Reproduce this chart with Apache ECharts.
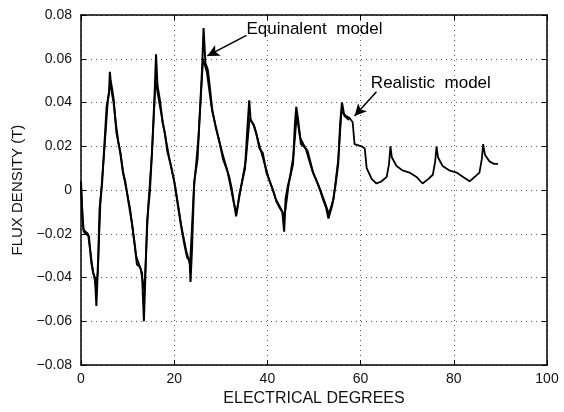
<!DOCTYPE html>
<html>
<head>
<meta charset="utf-8">
<script src="https://cdn.jsdelivr.net/npm/echarts@6/dist/echarts.min.js"></script>
<style>html,body{margin:0;background:#fff}#c{width:564px;height:412px}</style>
</head>
<body>
<div id="c"></div>
<script>
  // equivalent model (jagged trace, stops near 57 deg)
  const equivX = [0, 0.3, 0.6, 1.0, 1.7, 2.2, 2.6, 3.0, 3.3, 3.5, 3.7, 4.0, 4.5, 5.0, 5.5, 6.0, 6.2, 6.5, 7.0, 7.5,
    8.0, 8.5, 9.0, 9.5, 10.3, 11.0, 11.6, 12.0, 12.6, 13.1, 13.5, 13.8, 14.2, 14.8, 15.3, 15.8, 16.1, 16.4, 17.0, 17.5,
    18.0, 18.5, 19.2, 20.0, 21.0, 21.6, 22.2, 22.8, 23.3, 23.5, 23.8, 24.3, 25.0, 25.5, 26.0, 26.3, 26.7, 27.2, 27.6, 28.2,
    28.8, 29.7, 30.5, 31.2, 31.8, 32.4, 32.9, 33.3, 33.6, 34.0, 34.6, 35.2, 35.7, 36.1, 36.4, 37.0, 37.6, 38.3, 39.0, 39.8,
    40.5, 41.2, 41.9, 42.6, 43.2, 43.6, 43.9, 44.4, 45.0, 45.5, 45.9, 46.2, 46.6, 47.2, 47.8, 48.6, 49.2, 49.8, 50.6, 51.3,
    51.9, 52.6, 53.1, 53.5, 54.0, 54.6, 55.2, 55.6, 56.0, 56.5, 57.0, 57.5];
  const equivY = [0.004, -0.012, -0.019, -0.020, -0.021, -0.033, -0.038, -0.040, -0.053, -0.042, -0.030, -0.008, 0.002, 0.020, 0.038, 0.044, 0.054, 0.046, 0.040, 0.030,
    0.022, 0.016, 0.008, 0.004, -0.007, -0.016, -0.026, -0.034, -0.035, -0.038, -0.060, -0.040, -0.014, 0.000, 0.020, 0.044, 0.062, 0.048, 0.040, 0.031,
    0.026, 0.018, 0.012, 0.004, -0.010, -0.018, -0.025, -0.031, -0.032, -0.042, -0.028, 0.004, 0.014, 0.035, 0.056, 0.074, 0.058, 0.055, 0.048, 0.036,
    0.030, 0.022, 0.014, 0.010, 0.006, 0.000, -0.007, -0.012, -0.008, -0.002, 0.004, 0.010, 0.028, 0.041, 0.032, 0.030, 0.026, 0.019, 0.017, 0.008,
    0.004, 0.000, -0.005, -0.008, -0.010, -0.019, -0.004, 0.002, 0.007, 0.012, 0.030, 0.038, 0.032, 0.021, 0.020, 0.018, 0.013, 0.008, 0.004, 0.000,
    -0.004, -0.008, -0.013, -0.010, -0.006, 0.002, 0.012, 0.030, 0.040, 0.034, 0.033, 0.032];

  // realistic model (smoother trace, runs to ~90 deg)
  const realX = [0, 0.5, 1.5, 2.5, 3.2, 3.6, 4.2, 5.0, 5.8, 6.4, 7.0, 7.6, 8.4, 9.2, 10.5, 11.8, 12.8, 13.6, 14.4, 15.2,
    16.0, 16.8, 17.8, 19.0, 20.2, 21.5, 22.6, 23.4, 24.2, 25.2, 26.2, 27.0, 28.0, 29.0, 30.2, 31.5, 32.8, 33.4, 34.4, 35.4,
    36.2, 37.2, 38.6, 40.2, 41.8, 43.0, 43.7, 44.6, 45.6, 46.3, 47.0, 48.2, 49.6, 51.0, 52.4, 53.2, 54.2, 55.2, 55.9, 56.8,
    57.6, 58.3, 58.7, 60.2, 60.9, 61.3, 62.4, 63.4, 64.5, 65.6, 66.1, 66.4, 66.7, 67.7, 69.0, 70.5, 72.0, 73.3, 74.5, 75.5,
    76.0, 76.3, 76.6, 77.6, 79.0, 80.6, 82.0, 83.4, 84.5, 85.5, 86.0, 86.3, 86.7, 87.7, 88.6, 89.5];
  const realY = [0.002, -0.018, -0.020, -0.036, -0.044, -0.038, -0.004, 0.018, 0.042, 0.050, 0.042, 0.026, 0.018, 0.006, -0.008, -0.030, -0.036, -0.046, -0.008, 0.016,
    0.050, 0.040, 0.028, 0.014, 0.002, -0.016, -0.028, -0.034, 0.000, 0.024, 0.060, 0.054, 0.038, 0.028, 0.018, 0.008, -0.006, -0.010, 0.002, 0.014,
    0.033, 0.029, 0.018, 0.006, -0.004, -0.009, -0.012, 0.003, 0.016, 0.034, 0.024, 0.019, 0.009, 0.002, -0.006, -0.011, -0.004, 0.014, 0.036, 0.034,
    0.033, 0.031, 0.021, 0.020, 0.019, 0.010, 0.005, 0.003, 0.004, 0.006, 0.012, 0.020, 0.015, 0.011, 0.009, 0.008, 0.006, 0.003, 0.005, 0.007,
    0.013, 0.020, 0.015, 0.011, 0.009, 0.008, 0.006, 0.004, 0.006, 0.008, 0.014, 0.021, 0.016, 0.013, 0.012, 0.012];

  const xRange = [0, 100, 20];
  const yRange = [-0.08, 0.08, 0.02];

  // annotations, in data units
  const noteText = ["Equinalent  model", "Realistic  model"];
  const noteAt = [[35.5, 0.0733], [62.2, 0.0489]];
  const arrowFrom = [[35.5, 0.0707], [63.4, 0.0449]];
  const arrowTo = [[27.1, 0.0613], [58.7, 0.0338]];

  const FONT = "Liberation Sans";
  const zip = (xs, ys) => xs.map((x, i) => [x, ys[i]]);
  const yFmt = v => Math.abs(v) < 1e-9 ? "0" : v.toFixed(2).replace("-", "\u2212");

  const frame = { show: true, onZero: false, lineStyle: { color: "#000", width: 1.5 } };
  const tick = { show: true, inside: true, length: 5, lineStyle: { color: "#000", width: 1 } };
  const grid = { show: true, lineStyle: { color: "#555", width: 1, type: [1, 4] } };
  const lab = { color: "#111", fontFamily: FONT, fontSize: 14 };

  const chart = echarts.init(document.getElementById("c"), null, { renderer: "canvas" });
  chart.setOption({
    animation: false,
    backgroundColor: "#fff",
    grid: { left: 81, top: 15, width: 466, height: 362, containLabel: false },
    xAxis: [
      { type: "value", position: "bottom", min: xRange[0], max: xRange[1], interval: xRange[2],
        name: "ELECTRICAL DEGREES", nameLocation: "middle", nameGap: 21,
        nameTextStyle: { color: "#111", fontFamily: FONT, fontSize: 16 },
        axisLine: frame, axisTick: tick, splitLine: grid,
        axisLabel: Object.assign({ margin: 7 }, lab) },
      { type: "value", position: "top", min: xRange[0], max: xRange[1], interval: xRange[2],
        axisLine: frame, axisTick: tick, splitLine: { show: false }, axisLabel: { show: false } }
    ],
    yAxis: [
      { type: "value", position: "left", min: yRange[0], max: yRange[1], interval: yRange[2],
        name: "FLUX DENSITY (T)", nameLocation: "middle", nameGap: 52,
        nameTextStyle: { color: "#111", fontFamily: FONT, fontSize: 15 },
        axisLine: frame, axisTick: tick, splitLine: grid,
        axisLabel: Object.assign({ margin: 9, formatter: yFmt }, lab) },
      { type: "value", position: "right", min: yRange[0], max: yRange[1], interval: yRange[2],
        axisLine: frame, axisTick: tick, splitLine: { show: false }, axisLabel: { show: false } }
    ],
    series: [
      { name: "Equivalent model", type: "line", data: zip(equivX, equivY), showSymbol: false,
        lineStyle: { color: "#000", width: 2 }, z: 3 },
      { name: "Realistic model", type: "line", data: zip(realX, realY), showSymbol: false,
        lineStyle: { color: "#000", width: 1.8 }, z: 3,
        markLine: {
          silent: true, symbol: ["none", "arrow"], symbolSize: [9, 12],
          label: { show: false },
          lineStyle: { color: "#000", width: 1.5, type: "solid" },
          data: arrowFrom.map((f, i) => [{ coord: f }, { coord: arrowTo[i] }])
        },
        markPoint: {
          silent: true, symbol: "circle", symbolSize: 0,
          label: { show: true, position: "right", distance: 0, formatter: "{b}",
            color: "#000", fontFamily: FONT, fontSize: 17 },
          data: noteText.map((t, i) => ({ name: t, coord: noteAt[i] }))
        } }
    ]
  });
</script>
</body>
</html>
